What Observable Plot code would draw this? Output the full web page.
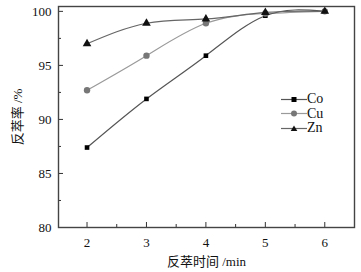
<!DOCTYPE html>
<html><head><meta charset="utf-8">
<script src="https://cdn.jsdelivr.net/npm/d3@7"></script>
<script src="https://cdn.jsdelivr.net/npm/@observablehq/plot@0.6"></script>
<style>
body{margin:0;background:#fff;}
#wrap{position:relative;width:361px;height:272px;}
#chart svg, #chart svg text{font-family:'Liberation Serif','Noto Sans CJK SC',serif !important;}
#legend{position:absolute;left:281px;top:92px;font-family:'Liberation Serif',serif;font-size:14px;color:#111;}
#legend div{height:14.5px;display:flex;align-items:center;}
</style>
</head><body>
<div id="wrap"><div id="chart"></div><div id="legend"></div></div>
<script>
const times = [2, 3, 4, 5, 6];
const co = [87.4, 91.9, 95.9, 99.6, 100.0];
const cu = [92.7, 95.9, 98.9, 99.8, 100.0];
const zn = [97.0, 98.9, 99.3, 99.9, 100.0];
const seriesNames = ["Co", "Cu", "Zn"];
const xTicks = [2, 3, 4, 5, 6];
const xMinor = [2.5, 3.5, 4.5, 5.5];
const yTicks = [80, 85, 90, 95, 100];
const yMinor = [82.5, 87.5, 92.5, 97.5];

const styles = {
  Co: {line: "#555", fill: "#000", symbol: "square", r: 2.6},
  Cu: {line: "#9a9a9a", fill: "#777", symbol: "circle", r: 3.2},
  Zn: {line: "#666", fill: "#111", symbol: "triangle", r: 3.2}
};
const vals = {Co: co, Cu: cu, Zn: zn};
const rows = seriesNames.flatMap(s => times.map((t, i) => ({s, t, v: vals[s][i]})));

const W = 361, H = 272, mL = 58, mR = 7, mT = 6, mB = 45;
const pH = H - mT - mB, pW = W - mL - mR;
const font = "'Liberation Serif', 'Noto Sans CJK SC', serif";

const marks = [];
for (const s of ["Cu", "Co", "Zn"]) {
  const d = rows.filter(r => r.s === s);
  marks.push(Plot.line(d, {x: "t", y: "v", stroke: styles[s].line, strokeWidth: 1.2, curve: "natural"}));
}
for (const s of ["Co", "Cu", "Zn"]) {
  const d = rows.filter(r => r.s === s);
  marks.push(Plot.dot(d, {x: "t", y: "v", symbol: () => styles[s].symbol, fill: styles[s].fill, stroke: "none", r: styles[s].r}));
}

const chart = Plot.plot({
  width: W, height: H,
  marginLeft: mL, marginRight: mR, marginTop: mT, marginBottom: mB,
  style: {fontFamily: font, fontSize: "13px", color: "#111", background: "#fff"},
  symbol: {type: "identity"},
  x: {domain: [1.52, 6.5]},
  y: {domain: [80, 100.45]},
  marks: [
    ...marks,
    Plot.tickX(xTicks, {x: d => d, insetTop: pH - 5, stroke: "#333"}),
    Plot.tickX(xMinor, {x: d => d, insetTop: pH - 3, stroke: "#333"}),
    Plot.tickY(yTicks, {y: d => d, insetRight: pW - 5, stroke: "#333"}),
    Plot.tickY(yMinor, {y: d => d, insetRight: pW - 3, stroke: "#333"}),
    Plot.axisX({ticks: xTicks, tickSize: 0, tickPadding: 10, tickFormat: d => d, label: "反萃时间 /min", labelAnchor: "center", labelOffset: 38, labelArrow: "none", fontSize: 13}),
    Plot.axisY({ticks: yTicks, tickSize: 0, tickPadding: 7, tickFormat: d => d, label: "反萃率 /%", labelAnchor: "center", labelOffset: 46, labelArrow: "none", fontSize: 13}),
    Plot.frame({stroke: "#444", strokeWidth: 1.4})
  ]
});
document.getElementById("chart").appendChild(chart);

const leg = document.getElementById("legend");
const symPaths = {
  square: '<rect x="10.5" y="3" width="5" height="5" fill="#000"/>',
  circle: '<circle cx="13" cy="5.5" r="3" fill="#777"/>',
  triangle: '<path d="M13 2.5 L16.3 8 L9.7 8 Z" fill="#111"/>'
};
for (const s of seriesNames) {
  const div = document.createElement("div");
  div.innerHTML = `<svg width="26" height="11"><line x1="0" x2="26" y1="5.5" y2="5.5" stroke="${styles[s].line}" stroke-width="1.2"/>${symPaths[styles[s].symbol]}</svg><span>${s}</span>`;
  leg.appendChild(div);
}
</script>
</body></html>
